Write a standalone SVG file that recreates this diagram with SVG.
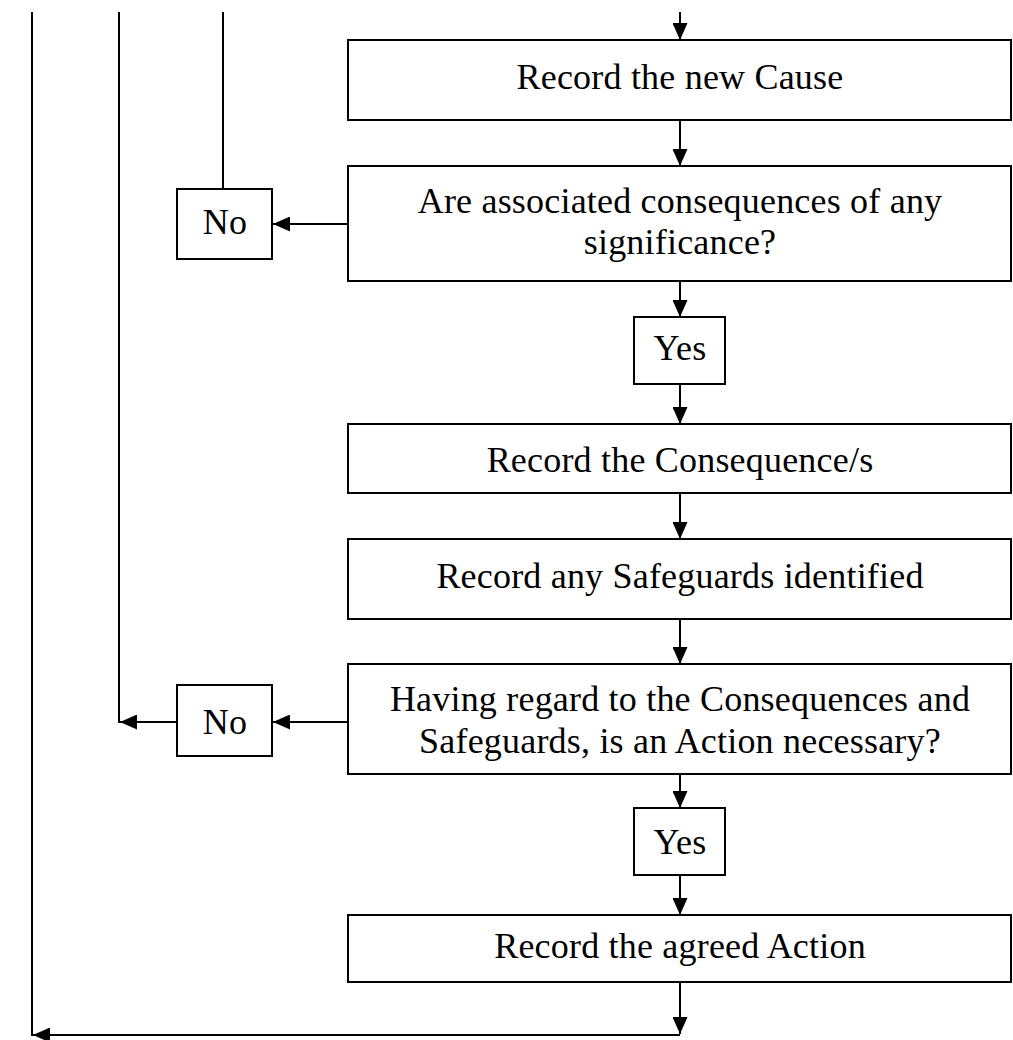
<svg xmlns="http://www.w3.org/2000/svg" width="1013" height="1040" viewBox="0 0 1013 1040">
  <style>
    .box { fill: #ffffff; stroke: #000000; stroke-width: 2; }
    .lbl { font-family: "Liberation Serif", "Times New Roman", serif; font-size: 36px; letter-spacing: 0.2px; fill: #000000; text-anchor: middle; }
    .wire { fill: none; stroke: #000000; stroke-width: 2; }
    .arr { marker-end: url(#head); }
  </style>
  <defs>
    <marker id="head" markerUnits="userSpaceOnUse" markerWidth="17" markerHeight="15" refX="17" refY="7.5" orient="auto">
      <path d="M0,0 L17,7.5 L0,15 z" fill="#000000"/>
    </marker>
  </defs>
  <rect x="0" y="0" width="1013" height="1040" fill="#ffffff"/>

  <!-- connectors -->
  <g id="connectors">
    <path class="wire arr" d="M680,12 V40"/>
    <path class="wire arr" d="M680,120 V166"/>
    <path class="wire arr" d="M680,281 V317"/>
    <path class="wire arr" d="M680,384 V424"/>
    <path class="wire arr" d="M680,493 V539"/>
    <path class="wire arr" d="M680,619 V664"/>
    <path class="wire arr" d="M680,774 V808"/>
    <path class="wire arr" d="M680,875 V915"/>
    <path class="wire arr" d="M680,982 V1034"/>
    <path class="wire arr" d="M680,1035 H33"/>
    <path class="wire" d="M32,12 V1036"/>
    <path class="wire arr" d="M348,224 H273"/>
    <path class="wire" d="M223,12 V189"/>
    <path class="wire arr" d="M348,722 H273"/>
    <path class="wire arr" d="M177,722 H120"/>
    <path class="wire" d="M119,12 V723"/>
  </g>

  <!-- process steps and decisions -->
  <g id="new-cause">
    <rect class="box" x="348" y="40" width="663" height="80"/>
    <text class="lbl" x="680" y="89">Record the new Cause</text>
  </g>
  <g id="consequences-significant">
    <rect class="box" x="348" y="166" width="663" height="115"/>
    <text class="lbl" x="680" y="213">Are associated consequences of any</text>
    <text class="lbl" x="680" y="254">significance?</text>
  </g>
  <g id="no-1">
    <rect class="box" x="177" y="189" width="95" height="70"/>
    <text class="lbl" x="225" y="234">No</text>
  </g>
  <g id="yes-1">
    <rect class="box" x="634" y="317" width="91" height="67"/>
    <text class="lbl" x="680" y="360">Yes</text>
  </g>
  <g id="record-consequences">
    <rect class="box" x="348" y="424" width="663" height="69"/>
    <text class="lbl" x="680" y="472">Record the Consequence/s</text>
  </g>
  <g id="record-safeguards">
    <rect class="box" x="348" y="539" width="663" height="80"/>
    <text class="lbl" x="680" y="588">Record any Safeguards identified</text>
  </g>
  <g id="action-necessary">
    <rect class="box" x="348" y="664" width="663" height="110"/>
    <text class="lbl" x="680" y="711">Having regard to the Consequences and</text>
    <text class="lbl" x="680" y="753">Safeguards, is an Action necessary?</text>
  </g>
  <g id="no-2">
    <rect class="box" x="177" y="685" width="95" height="71"/>
    <text class="lbl" x="225" y="734">No</text>
  </g>
  <g id="yes-2">
    <rect class="box" x="634" y="808" width="91" height="67"/>
    <text class="lbl" x="680" y="854">Yes</text>
  </g>
  <g id="record-action">
    <rect class="box" x="348" y="915" width="663" height="67"/>
    <text class="lbl" x="680" y="958">Record the agreed Action</text>
  </g>
</svg>
